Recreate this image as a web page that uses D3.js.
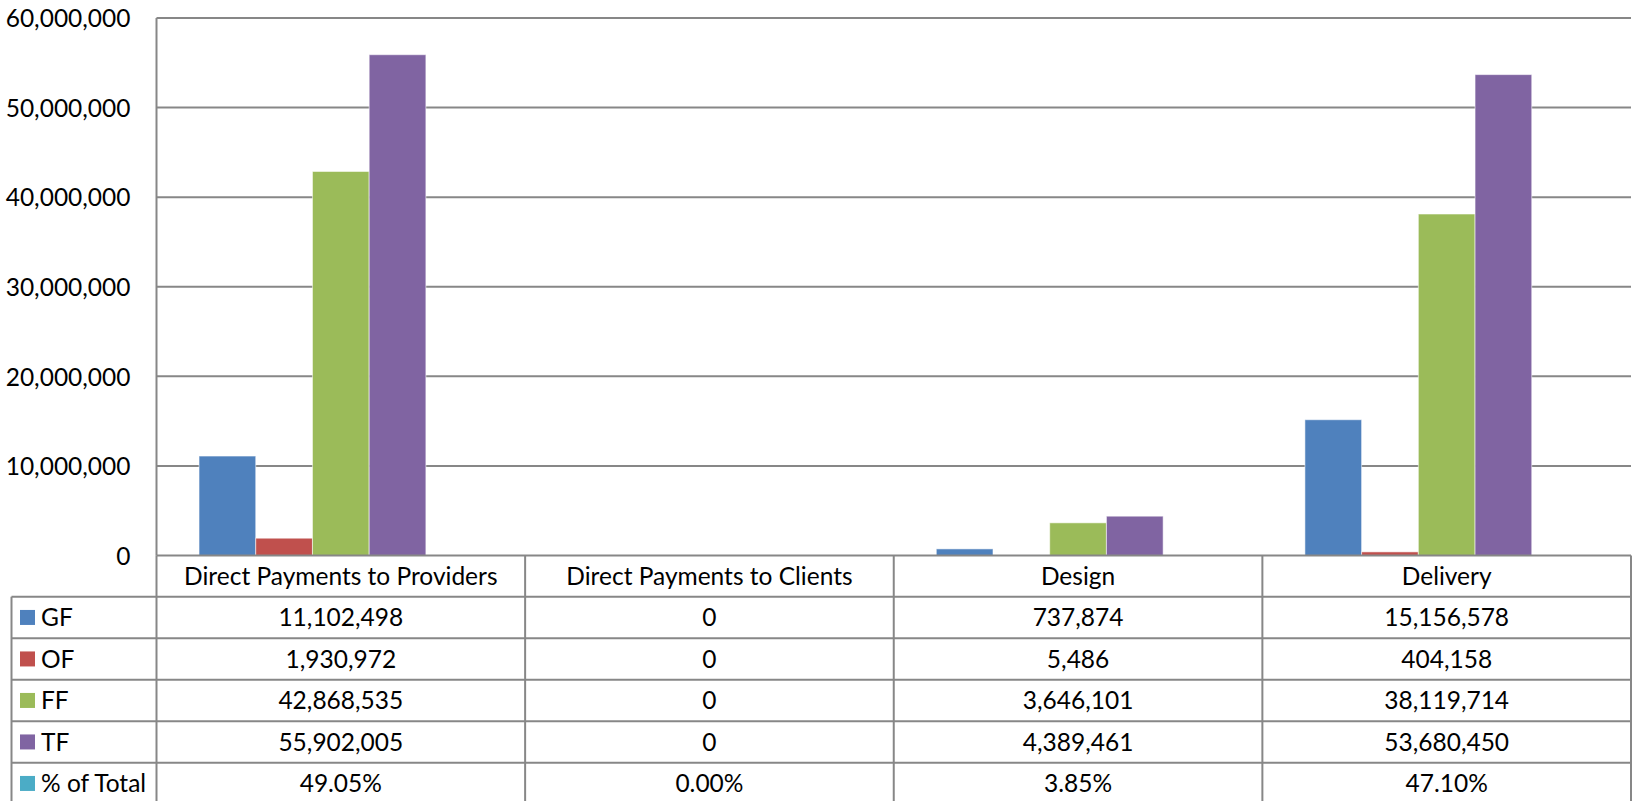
<!DOCTYPE html>
<html>
<head>
<meta charset="utf-8">
<script src="https://cdn.jsdelivr.net/npm/d3@7"></script>
<style>
  html, body { margin: 0; padding: 0; background: #fff; }
  svg { display: block; }
  text { font-family: Lato, "Open Sans", sans-serif; fill: #000; }
</style>
</head>
<body>
<svg id="chart" width="1634" height="801"></svg>
<script>
const categories = ["Direct Payments to Providers", "Direct Payments to Clients", "Design", "Delivery"];
const seriesNames = ["GF", "OF", "FF", "TF", "% of Total"];
const seriesColors = ["#4F81BD", "#C0504D", "#9BBB59", "#8064A2", "#4BACC6"];
const GF = [11102498, 0, 737874, 15156578];
const OF = [1930972, 0, 5486, 404158];
const FF = [42868535, 0, 3646101, 38119714];
const TF = [55902005, 0, 4389461, 53680450];
const pctTotal = [0.4905, 0.0000, 0.0385, 0.4710];
const yTicks = [0, 10000000, 20000000, 30000000, 40000000, 50000000, 60000000];

const seriesValues = [GF, OF, FF, TF, pctTotal];
const fmtNum = d3.format(",");
const fmtPct = d3.format(".2%");

const svg = d3.select("#chart");
const plotLeft = 156.5, plotRight = 1631, plotTop = 18, zeroY = 555.5;
const tableLeft = 11.5;
const headerH = 41.2, rowH = 41.5;
const gridColor = "#878787";
const fontSize = 24.5;

const y = d3.scaleLinear().domain([0, 60000000]).range([zeroY, plotTop]);
const x = d3.scaleBand().domain(categories).range([plotLeft, plotRight]).padding(0);
const xs = d3.scaleBand().domain(seriesNames).range([0, x.bandwidth()]).paddingInner(0).paddingOuter(0.75);

// gridlines
svg.append("g").selectAll("line").data(yTicks.filter(d => d > 0)).join("line")
  .attr("x1", plotLeft).attr("x2", plotRight)
  .attr("y1", d => y(d)).attr("y2", d => y(d))
  .attr("stroke", gridColor).attr("stroke-width", 2);

// y axis labels via d3 axis
const yAxis = d3.axisLeft(y).tickValues(yTicks).tickFormat(d => fmtNum(d)).tickSize(0).tickPadding(26);
const gy = svg.append("g").attr("transform", `translate(${plotLeft},0)`).call(yAxis);
gy.select(".domain").remove();
gy.selectAll("text").style("font-size", fontSize + "px").attr("fill", "#000")
  .style("font-family", "Lato, 'Open Sans', sans-serif").attr("dy", "0.36em");

// bars
const barData = [];
categories.forEach((c, ci) => {
  seriesNames.forEach((s, si) => {
    barData.push({ cat: c, ser: s, si, v: seriesValues[si][ci] });
  });
});
svg.append("g").selectAll("rect").data(barData).join("rect")
  .attr("x", d => x(d.cat) + xs(d.ser))
  .attr("y", d => y(d.v))
  .attr("width", xs.bandwidth())
  .attr("height", d => zeroY - y(d.v))
  .attr("fill", d => seriesColors[d.si])
  .attr("stroke", "rgba(255,255,255,0.55)")
  .attr("stroke-width", 1);

// left axis line
svg.append("line").attr("x1", plotLeft).attr("x2", plotLeft).attr("y1", plotTop).attr("y2", zeroY)
  .attr("stroke", gridColor).attr("stroke-width", 2);

// table
const tableTop = zeroY;
const headerBottom = tableTop + headerH;
const tableBottom = headerBottom + rowH * seriesNames.length;
const tg = svg.append("g");

tg.append("line").attr("x1", plotLeft).attr("x2", plotRight).attr("y1", tableTop).attr("y2", tableTop)
  .attr("stroke", gridColor).attr("stroke-width", 2.2);
d3.range(seriesNames.length + 1).forEach(i => {
  const yy = headerBottom + i * rowH;
  tg.append("line").attr("x1", tableLeft).attr("x2", plotRight).attr("y1", yy).attr("y2", yy)
    .attr("stroke", gridColor).attr("stroke-width", 2);
});
tg.append("line").attr("x1", tableLeft).attr("x2", tableLeft).attr("y1", headerBottom).attr("y2", tableBottom)
  .attr("stroke", gridColor).attr("stroke-width", 2);
categories.forEach(c => {
  tg.append("line").attr("x1", x(c)).attr("x2", x(c)).attr("y1", tableTop).attr("y2", tableBottom)
    .attr("stroke", gridColor).attr("stroke-width", 2);
});
tg.append("line").attr("x1", plotRight).attr("x2", plotRight).attr("y1", tableTop).attr("y2", tableBottom)
  .attr("stroke", gridColor).attr("stroke-width", 2);

// header labels
tg.selectAll("text.hdr").data(categories).join("text").attr("class", "hdr")
  .attr("x", d => x(d) + x.bandwidth() / 2)
  .attr("y", tableTop + headerH / 2)
  .attr("dy", "0.36em")
  .attr("text-anchor", "middle")
  .style("font-size", fontSize + "px")
  .text(d => d);

// rows
seriesNames.forEach((s, si) => {
  const cy = headerBottom + si * rowH + rowH / 2;
  tg.append("rect").attr("x", 20).attr("y", cy - 7.5).attr("width", 15).attr("height", 15)
    .attr("fill", seriesColors[si]);
  tg.append("text").attr("x", 41).attr("y", cy).attr("dy", "0.36em")
    .style("font-size", fontSize + "px").text(s);
  categories.forEach((c, ci) => {
    const v = seriesValues[si][ci];
    tg.append("text").attr("x", x(c) + x.bandwidth() / 2).attr("y", cy).attr("dy", "0.36em")
      .attr("text-anchor", "middle").style("font-size", fontSize + "px")
      .text(si === 4 ? fmtPct(v) : fmtNum(v));
  });
});
</script>
</body>
</html>
